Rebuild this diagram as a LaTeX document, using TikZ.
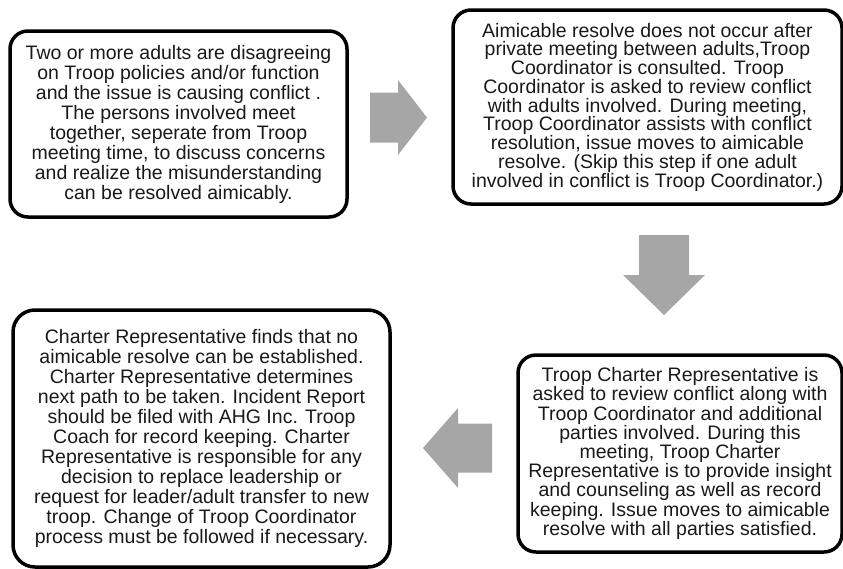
\documentclass[tikz,border=0pt]{standalone}
\usepackage{fontspec}
\setmainfont{Liberation Sans}
\usepackage{xcolor}
\usetikzlibrary{positioning}
\definecolor{arrowgray}{HTML}{A6A6A6}

\begin{document}
\begin{tikzpicture}[x=1pt, y=-1pt,
	stepbox/.style={draw=black, line width=3.5pt, rounded corners=18pt, align=center, inner sep=0pt, text=black!90},
	blockarrow/.style={fill=arrowgray, draw=none}]
	\useasboundingbox (0,0) rectangle (843,568);
	
	\node[stepbox, minimum width=337pt, minimum height=186pt, font=\fontsize{19.5}{20}\selectfont] (meet) at (178.5,124)
		{Two or more adults are disagreeing\\ on Troop policies and/or function\\ and the issue is causing conflict .\\ The persons involved meet\\ together, seperate from Troop\\ meeting time, to discuss concerns\\ and realize the misunderstanding\\ can be resolved aimicably.};
	\node[stepbox, minimum width=389pt, minimum height=194pt, font=\fontsize{19.5}{18.75}\selectfont] (coord) at (647.5,107)
		{Aimicable resolve does not occur after\\ private meeting between adults,Troop\\ Coordinator is consulted. Troop\\ Coordinator is asked to review conflict\\ with adults involved. During meeting,\\ Troop Coordinator assists with conflict\\ resolution, issue moves to aimicable\\ resolve. (Skip this step if one adult\\ involved in conflict is Troop Coordinator.)};
	\node[stepbox, minimum width=324pt, minimum height=197pt, font=\fontsize{19.5}{19.2}\selectfont] (charter) at (680,453.5)
		{Troop Charter Representative is\\ asked to review conflict along with\\ Troop Coordinator and additional\\ parties involved. During this\\ meeting, Troop Charter\\ Representative is to provide insight\\ and counseling as well as record\\ keeping. Issue moves to aimicable\\ resolve with all parties satisfied.};
	\node[stepbox, minimum width=377pt, minimum height=257pt, rounded corners=22pt, font=\fontsize{19.5}{20}\selectfont] (final) at (201.5,438.5)
		{Charter Representative finds that no\\ aimicable resolve can be established.\\ Charter Representative determines\\ next path to be taken. Incident Report\\ should be filed with AHG Inc. Troop\\ Coach for record keeping. Charter\\ Representative is responsible for any\\ decision to replace leadership or\\ request for leader/adult transfer to new\\ troop. Change of Troop Coordinator\\ process must be followed if necessary.};
	
	% block arrows between the steps
	\coordinate (toright) at (370,117.5);
	\coordinate (todown) at (664,235);
	\coordinate (toleft) at (492,448);
	
	\fill[blockarrow] (toright) ++(0,-25) -- ++(28,0) -- ++(0,-12.5) -- ++(29,37.5) -- ++(-29,37.5) -- ++(0,-12.5) -- ++(-28,0) -- cycle;
	\fill[blockarrow] (todown) ++(-25,0) -- ++(0,40) -- ++(-16,0) -- ++(41,40) -- ++(41,-40) -- ++(-16,0) -- ++(0,-40) -- cycle;
	\fill[blockarrow] (toleft) ++(0,-24.5) -- ++(-34,0) -- ++(0,-15.5) -- ++(-35,40) -- ++(35,40) -- ++(0,-15.5) -- ++(34,0) -- cycle;
\end{tikzpicture}
\end{document}
